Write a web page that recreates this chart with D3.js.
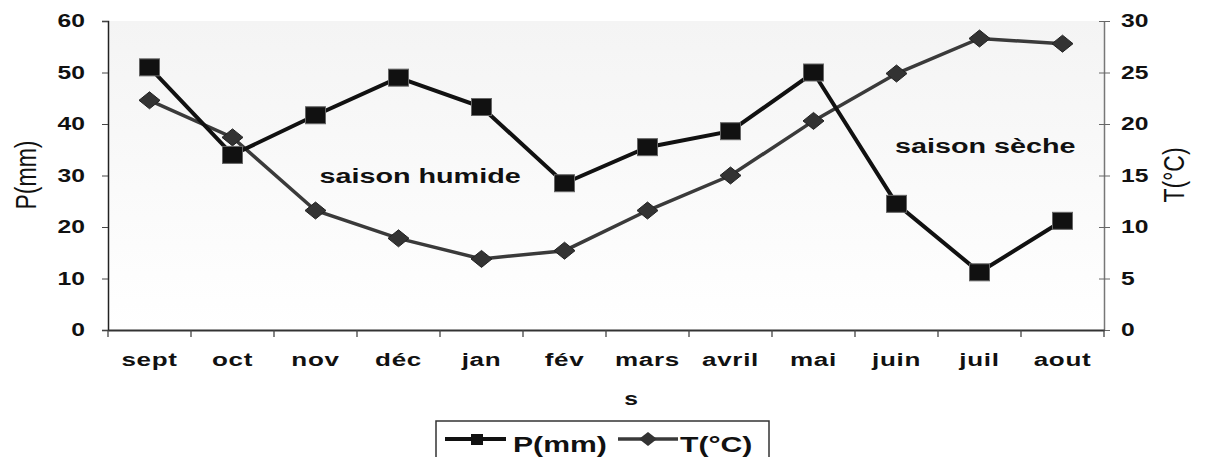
<!DOCTYPE html>
<html><head><meta charset="utf-8">
<script src="https://cdn.jsdelivr.net/npm/d3@7"></script>
<style>
body{margin:0;background:#fff;}
text{font-family:"Liberation Sans",Arial,sans-serif;}
</style></head>
<body><svg id="c" width="1209" height="457"></svg>
<script>
const months = ["sept","oct","nov","déc","jan","fév","mars","avril","mai","juin","juil","aout"];
const precip = [51,34,41.7,49,43.3,28.5,35.5,38.6,50,24.5,11.2,21.2];
const temp = [22.3,18.7,11.6,8.9,6.9,7.7,11.6,15,20.3,24.9,28.3,27.8];
const pTicks = [0,10,20,30,40,50,60];
const tTicks = [0,5,10,15,20,25,30];
const annotationTexts = ["saison humide","saison sèche"];

const SX = 1.37; // horizontal stretch of the text in the original
const svg = d3.select("#c");
const L=108, R=1104, T=21, B=330;
const x = d3.scaleBand().domain(months).range([L,R]);
const yP = d3.scaleLinear().domain([0,60]).range([B,T]);
const yT = d3.scaleLinear().domain([0,30]).range([B,T]);
const cx = m => x(m)+x.bandwidth()/2;

function stext(parent, tx, ty, str, size, weight, anchor){
  return parent.append("text").attr("transform",`translate(${tx},${ty}) scale(${SX},1)`)
    .attr("text-anchor",anchor||"start").attr("font-size",size).attr("font-weight",weight||"normal")
    .attr("fill","#111").text(str);
}

const defs = svg.append("defs");
const g = defs.append("linearGradient").attr("id","bg").attr("x1",0).attr("y1",0).attr("x2",0).attr("y2",1);
g.append("stop").attr("offset","0").attr("stop-color","#f4f4f4");
g.append("stop").attr("offset","1").attr("stop-color","#ffffff");
svg.append("rect").attr("x",L).attr("y",T).attr("width",R-L).attr("height",B-T).attr("fill","url(#bg)");

// left axis
const ax = svg.append("g").attr("transform",`translate(${L},0)`)
  .call(d3.axisLeft(yP).tickValues(pTicks).tickSize(6).tickFormat(""));
ax.select(".domain").attr("stroke","#222").attr("stroke-width",1.5);
ax.selectAll(".tick line").attr("stroke","#444");
const axL = svg.append("g");
pTicks.forEach(v=>stext(axL, 85, yP(v)+6, String(v), 18, "bold", "end"));

// right axis
const ar = svg.append("g").attr("transform",`translate(${R},0)`)
  .call(d3.axisRight(yT).tickValues(tTicks).tickSizeInner(6).tickSizeOuter(0).tickFormat(""));
ar.select(".domain").attr("stroke","#777").attr("stroke-width",1.5);
ar.selectAll(".tick line").attr("stroke","#666").attr("x1",-5);
const axR = svg.append("g");
tTicks.forEach(v=>stext(axR, 1121, yT(v)+6, String(v), 18, "bold", "start"));

// bottom axis
const bx = svg.append("g").attr("transform",`translate(0,${B})`)
  .call(d3.axisBottom(x).tickSize(0).tickFormat(""));
bx.select(".domain").attr("stroke","#333").attr("stroke-width",1.8);
const bounds = months.map(m=>x(m)).concat([R]);
svg.append("g").selectAll("line").data(bounds).join("line")
  .attr("x1",d=>d).attr("x2",d=>d).attr("y1",B).attr("y2",B+7).attr("stroke","#444").attr("stroke-width",1.3);
const axB = svg.append("g");
months.forEach(m=>stext(axB, cx(m), 366, m, 19, "bold", "middle").attr("letter-spacing","0.5px"));

// axis titles
svg.append("text").attr("transform","translate(36,175) rotate(-90) scale(1,1.3)").attr("text-anchor","middle")
  .attr("font-size",23).attr("fill","#111").text("P(mm)");
svg.append("text").attr("transform","translate(1184,175) rotate(-90) scale(1,1.3)").attr("text-anchor","middle")
  .attr("font-size",23).attr("fill","#111").text("T(°C)");
stext(svg, 631, 405, "s", 18, "bold", "middle");

// T line
svg.append("path").datum(temp).attr("fill","none").attr("stroke","#3a3a3a").attr("stroke-width",3.5)
  .attr("d", d3.line().x((d,i)=>cx(months[i])).y(d=>yT(d)));
// P line
svg.append("path").datum(precip).attr("fill","none").attr("stroke","#111").attr("stroke-width",4)
  .attr("d", d3.line().x((d,i)=>cx(months[i])).y(d=>yP(d)));

// diamonds
const dw=10.5, dh=8.5;
svg.append("g").selectAll("path").data(temp).join("path")
  .attr("d",(d,i)=>{const X=cx(months[i]),Y=yT(d);return `M${X},${Y-dh}L${X+dw},${Y}L${X},${Y+dh}L${X-dw},${Y}Z`;})
  .attr("fill","#333").attr("stroke","#222").attr("stroke-width",1);
// squares
const sw=20, sh=17;
svg.append("g").selectAll("rect").data(precip).join("rect")
  .attr("x",(d,i)=>cx(months[i])-sw/2).attr("y",d=>yP(d)-sh/2).attr("width",sw).attr("height",sh)
  .attr("fill","#111").attr("stroke","#666").attr("stroke-width",1);

// annotations
stext(svg, x("déc")+x.bandwidth()*0.76, yP(30)+7, annotationTexts[0], 21, "bold", "middle");
stext(svg, x("juil")+x.bandwidth()*0.57, yT(18)+8, annotationTexts[1], 21, "bold", "middle");

// legend
const lg = svg.append("g");
lg.append("rect").attr("x",436).attr("y",421).attr("width",333).attr("height",44).attr("fill","#fff").attr("stroke","#333").attr("stroke-width",1.5);
lg.append("line").attr("x1",445).attr("x2",506).attr("y1",439).attr("y2",439).attr("stroke","#111").attr("stroke-width",4);
lg.append("rect").attr("x",471).attr("y",434).attr("width",12).attr("height",11).attr("fill","#111");
stext(lg, 513, 452, "P(mm)", 22, "bold", "start");
lg.append("line").attr("x1",618).attr("x2",678).attr("y1",439).attr("y2",439).attr("stroke","#3a3a3a").attr("stroke-width",3.5);
lg.append("path").attr("d","M648,432L657,439L648,446L639,439Z").attr("fill","#333");
stext(lg, 680, 452, "T(°C)", 22, "bold", "start");
</script></body></html>
